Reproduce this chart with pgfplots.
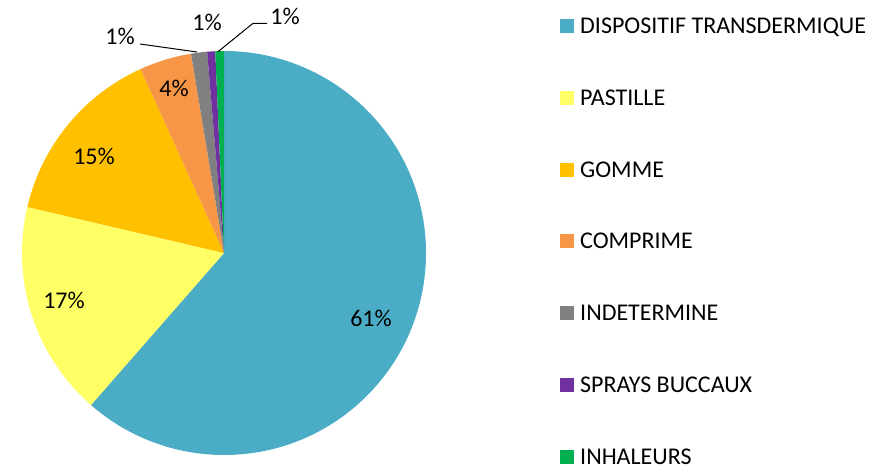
\documentclass[border=0pt]{standalone}
\usepackage{pgfplots}
\pgfplotsset{compat=1.18}
\usepackage{pgfplotstable}
\usepackage{fontspec}
\setmainfont{Carlito}
\definecolor{cA}{HTML}{4BACC6}
\definecolor{cB}{HTML}{FFFF66}
\definecolor{cC}{HTML}{FFC000}
\definecolor{cD}{HTML}{F79646}
\definecolor{cE}{HTML}{808080}
\definecolor{cF}{HTML}{7030A0}
\definecolor{cG}{HTML}{00B050}
\pgfplotstableread[col sep=comma]{
value,col,name,lx,ly,lab
61.44,cA,DISPOSITIF TRANSDERMIQUE,371,140.4,61\%
17.22,cB,PASTILLE,64,158.4,17\%
14.56,cC,GOMME,94,302.4,15\%
4.17,cD,COMPRIME,174,370.4,4\%
1.28,cE,INDETERMINE,120,422.4,1\%
0.64,cF,SPRAYS BUCCAUX,207,436.4,1\%
0.69,cG,INHALEURS,285,442.9,1\%
}\piedata
\begin{document}
\begin{tikzpicture}
\begin{axis}[x=1pt,y=1pt,xmin=0,xmax=878,ymin=0,ymax=467,
  hide axis,scale only axis,clip=false]
\pgfplotsextra{%
  \path (axis cs:0,0) rectangle (axis cs:878,467);
  \pgfplotstablegetrowsof{\piedata}%
  \pgfmathtruncatemacro\nrows{\pgfplotsretval-1}%
  \xdef\cum{0}%
  \foreach \i in {0,...,\nrows}{%
    \pgfplotstablegetelem{\i}{value}\of\piedata \let\val\pgfplotsretval
    \pgfplotstablegetelem{\i}{col}\of\piedata \let\slicecol\pgfplotsretval
    \pgfmathsetmacro\aS{90-3.6*\cum}%
    \pgfmathsetmacro\aE{90-3.6*(\cum+\val)}%
    \fill[fill=\slicecol] (axis cs:224,214) -- ++(\aS:202pt) arc[start angle=\aS, end angle=\aE, radius=202pt] -- cycle;
    \pgfmathsetmacro\newcum{\cum+\val}%
    \xdef\cum{\newcum}%
  }%
  \foreach \i in {0,...,\nrows}{%
    \pgfplotstablegetelem{\i}{col}\of\piedata \let\slicecol\pgfplotsretval
    \pgfplotstablegetelem{\i}{name}\of\piedata \let\slicename\pgfplotsretval
    \pgfplotstablegetelem{\i}{lx}\of\piedata \let\lx\pgfplotsretval
    \pgfplotstablegetelem{\i}{ly}\of\piedata \let\ly\pgfplotsretval
    \pgfplotstablegetelem{\i}{lab}\of\piedata \let\lab\pgfplotsretval
    \pgfmathsetmacro\yc{467-26-71.77*\i}%
    \fill[fill=\slicecol] (axis cs:560,\yc-7) rectangle (axis cs:574,\yc+7);
    \node[anchor=base west,inner sep=0pt,font=\fontsize{24}{29}\selectfont] at (axis cs:580,\yc-7.6) {\slicename};
    \node[anchor=base,inner sep=0pt,font=\fontsize{24}{29}\selectfont] at (axis cs:\lx,\ly) {\lab};
  }%
  \draw[black,line width=1pt] (axis cs:140,423) -- (axis cs:197,415);
  \draw[black,line width=1pt] (axis cs:267,443.7) -- (axis cs:253,443.7) -- (axis cs:218,415.3);
}
\end{axis}
\end{tikzpicture}
\end{document}
